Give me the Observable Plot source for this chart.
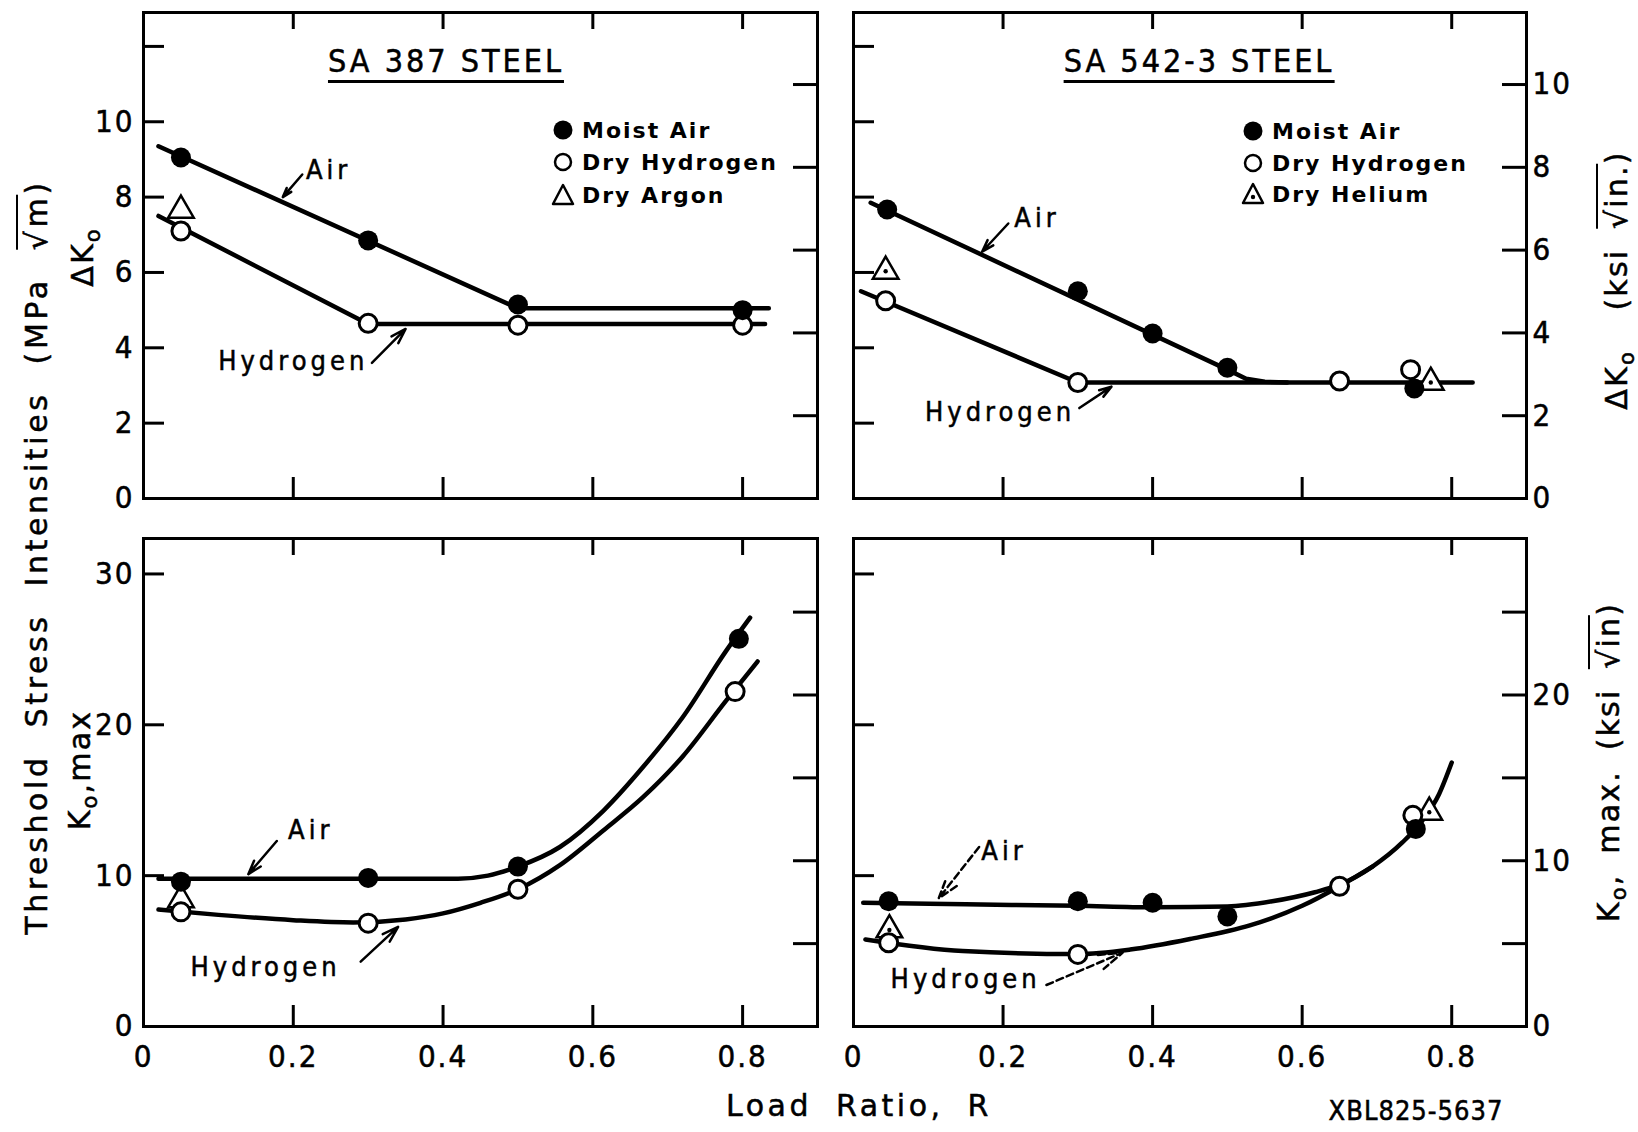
<!DOCTYPE html>
<html>
<head>
<meta charset="utf-8">
<script src="https://cdn.jsdelivr.net/npm/d3@7"></script>
<script src="https://cdn.jsdelivr.net/npm/@observablehq/plot@0.6"></script>
<style>
html, body { margin: 0; padding: 0; background: #fff; }
#fig { position: relative; width: 1638px; height: 1132px; background: #fff; overflow: hidden;
  font-family: "DejaVu Sans Condensed", "DejaVu Sans", sans-serif; color: #000; }
.panel { position: absolute; z-index: 1; }
.panel svg { overflow: visible; max-width: none; display: block; }
.lbl { position: absolute; white-space: nowrap; line-height: 1; z-index: 2; -webkit-text-stroke: 0.5px #000; }
.rot { transform: translate(-50%, -50%) rotate(-90deg); }
.ctr { transform: translate(-50%, -50%); }
.sq { border-top: 2px solid #000; padding-top: 1px; }
.title { position: absolute; white-space: nowrap; z-index: 2; font-size: 32px; letter-spacing: 3px;
  transform: translateX(-50%); border-bottom: 3px solid #000; padding-bottom: 3px; line-height: 1; -webkit-text-stroke: 0.5px #000; }
.leg { position: absolute; z-index: 2; display: flex; align-items: center; height: 26px;
  font-family: "DejaVu Sans", sans-serif; font-weight: bold; font-size: 22px; letter-spacing: 2px; white-space: nowrap; }
.leg svg { margin-right: 7px; }
</style>
</head>
<body>
<div id="fig"></div>
<script>
// ---------- scales / ticks ----------
const KSI = 1.0988; // 1 ksi·√in = 1.0988 MPa·√m
const xInnerTicks = [0.2, 0.4, 0.6, 0.8];
const xLabelTicks = [0, 0.2, 0.4, 0.6, 0.8];
const dkSideTicksMPa = [2, 4, 6, 8, 10, 12];
const dkLabelsMPa = [0, 2, 4, 6, 8, 10];
const dkSideTicksKsi = [2, 4, 6, 8, 10];
const dkLabelsKsi = [0, 2, 4, 6, 8, 10];
const kmSideTicksMPa = [10, 20, 30];
const kmLabelsMPa = [0, 10, 20, 30];
const kmSideTicksKsi = [5, 10, 15, 20, 25];
const kmLabelsKsi = [0, 10, 20];

// ---------- SA 387: ΔK0 (MPa√m) ----------
const sa387DkAirPts = [{R: 0.05, K: 9.05}, {R: 0.30, K: 6.85}, {R: 0.50, K: 5.15}, {R: 0.80, K: 5.0}];
const sa387DkH2Pts  = [{R: 0.05, K: 7.1}, {R: 0.30, K: 4.65}, {R: 0.50, K: 4.6}, {R: 0.80, K: 4.6}];
const sa387DkArPts  = [{R: 0.05, K: 7.65}];
const sa387DkAirFit = [{R: 0.02, K: 9.35}, {R: 0.50, K: 5.05}, {R: 0.835, K: 5.05}];
const sa387DkH2Fit  = [{R: 0.02, K: 7.5}, {R: 0.30, K: 4.63}, {R: 0.83, K: 4.63}];

// ---------- SA 542-3: ΔK0 (MPa√m) ----------
const sa542DkAirPts = [{R: 0.045, K: 7.67}, {R: 0.30, K: 5.5}, {R: 0.40, K: 4.38}, {R: 0.50, K: 3.47}, {R: 0.75, K: 2.92}];
const sa542DkH2Pts  = [{R: 0.043, K: 5.25}, {R: 0.30, K: 3.08}, {R: 0.65, K: 3.12}, {R: 0.745, K: 3.42}];
const sa542DkHePts  = [{R: 0.043, K: 6.03}, {R: 0.772, K: 3.08}];
const sa542DkAirFit = [{R: 0.023, K: 7.85}, {R: 0.50, K: 3.42}, {R: 0.525, K: 3.18}, {R: 0.55, K: 3.1}, {R: 0.58, K: 3.08}];
const sa542DkH2Fit  = [{R: 0.01, K: 5.5}, {R: 0.30, K: 3.08}, {R: 0.828, K: 3.08}];

// ---------- SA 387: K0,max (MPa√m) ----------
const sa387KmAirPts = [{R: 0.05, K: 9.6}, {R: 0.30, K: 9.85}, {R: 0.50, K: 10.6}, {R: 0.795, K: 25.7}];
const sa387KmH2Pts  = [{R: 0.05, K: 7.6}, {R: 0.30, K: 6.85}, {R: 0.50, K: 9.1}, {R: 0.79, K: 22.2}];
const sa387KmArPts  = [{R: 0.05, K: 8.4}];
const sa387KmAirFit = [{R: 0.02, K: 9.8}, {R: 0.15, K: 9.8}, {R: 0.30, K: 9.8}, {R: 0.42, K: 9.8}, {R: 0.46, K: 10.0},
  {R: 0.50, K: 10.6}, {R: 0.556, K: 11.9}, {R: 0.614, K: 14.3}, {R: 0.667, K: 17.2}, {R: 0.72, K: 20.5},
  {R: 0.778, K: 24.9}, {R: 0.81, K: 27.1}];
const sa387KmH2Fit  = [{R: 0.02, K: 7.75}, {R: 0.10, K: 7.4}, {R: 0.20, K: 7.05}, {R: 0.28, K: 6.9}, {R: 0.35, K: 7.1},
  {R: 0.40, K: 7.5}, {R: 0.45, K: 8.2}, {R: 0.50, K: 9.1}, {R: 0.556, K: 10.7}, {R: 0.614, K: 13.0},
  {R: 0.667, K: 15.2}, {R: 0.72, K: 17.9}, {R: 0.778, K: 21.6}, {R: 0.82, K: 24.2}];

// ---------- SA 542-3: K0,max (MPa√m) ----------
const sa542KmAirPts = [{R: 0.047, K: 8.3}, {R: 0.30, K: 8.3}, {R: 0.40, K: 8.2}, {R: 0.50, K: 7.3}, {R: 0.752, K: 13.1}];
const sa542KmH2Pts  = [{R: 0.047, K: 5.55}, {R: 0.30, K: 4.78}, {R: 0.65, K: 9.3}, {R: 0.748, K: 14.0}];
const sa542KmHePts  = [{R: 0.048, K: 6.4}, {R: 0.77, K: 14.2}];
const sa542KmAirFit = [{R: 0.013, K: 8.2}, {R: 0.15, K: 8.1}, {R: 0.30, K: 8.0}, {R: 0.40, K: 7.9}, {R: 0.50, K: 7.95},
  {R: 0.56, K: 8.3}, {R: 0.617, K: 8.9}, {R: 0.65, K: 9.4}, {R: 0.694, K: 10.6}, {R: 0.734, K: 12.2},
  {R: 0.76, K: 13.6}, {R: 0.783, K: 15.4}, {R: 0.80, K: 17.5}];
const sa542KmH2Fit  = [{R: 0.016, K: 5.77}, {R: 0.146, K: 5.0}, {R: 0.30, K: 4.8}, {R: 0.37, K: 5.1}, {R: 0.45, K: 5.8},
  {R: 0.53, K: 6.7}, {R: 0.60, K: 8.0}, {R: 0.65, K: 9.3}, {R: 0.694, K: 10.6}];

// ---------- annotations (label positions in data units) ----------
const annoTL = [{R: 0.217, K: 8.72, text: "Air", a: "start"}, {R: 0.20, K: 3.64, text: "Hydrogen", a: "middle"}];
const arrowTL = [{R1: 0.212, K1: 8.6, R2: 0.186, K2: 8.0}, {R1: 0.305, K1: 3.6, R2: 0.35, K2: 4.5}];
const annoTR = [{R: 0.215, K: 7.44, text: "Air", a: "start"}, {R: 0.196, K: 2.28, text: "Hydrogen", a: "middle"}];
const arrowTR = [{R1: 0.207, K1: 7.3, R2: 0.172, K2: 6.55}, {R1: 0.302, K1: 2.4, R2: 0.345, K2: 2.97}];
const annoBL = [{R: 0.193, K: 13.0, text: "Air", a: "start"}, {R: 0.163, K: 3.9, text: "Hydrogen", a: "middle"}];
const arrowBL = [{R1: 0.178, K1: 12.3, R2: 0.14, K2: 10.1}, {R1: 0.29, K1: 4.3, R2: 0.34, K2: 6.6}];
const annoBR = [{R: 0.171, K: 11.6, text: "Air", a: "start"}, {R: 0.15, K: 3.1, text: "Hydrogen", a: "middle"}];
const arrowBR = [{R1: 0.168, K1: 11.9, R2: 0.114, K2: 8.5}, {R1: 0.258, K1: 2.75, R2: 0.36, K2: 4.9}];

const legend387 = ["Moist Air", "Dry Hydrogen", "Dry Argon"];
const legend542 = ["Moist Air", "Dry Hydrogen", "Dry Helium"];

// ---------- drawing ----------
const FONT = '"DejaVu Sans Condensed", "DejaVu Sans", sans-serif';
const fig = document.getElementById("fig");
const fmtX = d => d === 0 ? "0" : d3.format(".1f")(d);

function panel(cfg) {
  const fw = cfg.width - cfg.mL - cfg.mR;
  const fh = cfg.height - cfg.mT - cfg.mB;
  const textOpts = {x: "R", y: "K", text: "text", fontSize: 27, fill: "black"};
  const marks = [
    Plot.ruleX(xInnerTicks, {x: d => d, insetBottom: fh - 17, stroke: "black", strokeWidth: 3}),
    Plot.ruleX(xInnerTicks, {x: d => d, insetTop: fh - 21, stroke: "black", strokeWidth: 3}),
    Plot.ruleY(cfg.leftTicks, {y: d => d, insetRight: fw - 21, stroke: "black", strokeWidth: 3}),
    Plot.ruleY(cfg.rightTicks.map(k => k * KSI), {y: d => d, insetLeft: fw - 24, stroke: "black", strokeWidth: 3}),
    Plot.frame({stroke: "black", strokeWidth: 3}),
    Plot.line(cfg.airFit, {x: "R", y: "K", stroke: "black", strokeWidth: 4.5, curve: cfg.curve}),
    Plot.line(cfg.h2Fit, {x: "R", y: "K", stroke: "black", strokeWidth: 4.5, curve: cfg.curve}),
    Plot.arrow(cfg.arrows, {x1: "R1", y1: "K1", x2: "R2", y2: "K2", stroke: "black", strokeWidth: 2.5,
      headLength: 15, headAngle: 35, strokeDasharray: cfg.dashArrows ? "7,4" : null}),
    Plot.text(cfg.annos.filter(d => d.a === "start"), {...textOpts, textAnchor: "start"}),
    Plot.text(cfg.annos.filter(d => d.a === "middle"), {...textOpts, textAnchor: "middle"}),
    Plot.dot(cfg.thirdPts, {x: "R", y: "K", symbol: "triangle", r: 9.5, fill: "white", stroke: "black", strokeWidth: 2.5}),
    ...(cfg.helium ? [Plot.dot(cfg.thirdPts, {x: "R", y: "K", r: 2.2, fill: "black"})] : []),
    Plot.dot(cfg.h2Pts, {x: "R", y: "K", r: 9, fill: "white", stroke: "black", strokeWidth: 3}),
    Plot.dot(cfg.airPts, {x: "R", y: "K", r: 10, fill: "black"}),
    ...cfg.axes
  ];
  const svg = Plot.plot({
    width: cfg.width, height: cfg.height,
    marginLeft: cfg.mL, marginRight: cfg.mR, marginTop: cfg.mT, marginBottom: cfg.mB,
    x: {domain: [0, 0.9], axis: null},
    y: {domain: cfg.yDomain, axis: null},
    style: {fontFamily: FONT, fontSize: "31px", letterSpacing: "2px", background: "transparent", color: "black", overflow: "visible"},
    marks
  });
  d3.select(svg).selectAll("text").style("stroke", "black").style("stroke-width", "0.5px");
  d3.select(svg).selectAll('g[aria-label="text"] text').style("letter-spacing", "4px");
  const div = document.createElement("div");
  div.className = "panel";
  div.style.left = cfg.left + "px";
  div.style.top = cfg.top + "px";
  div.appendChild(svg);
  fig.appendChild(div);
}

const topDomain = [0, 12.9];
const botDomain = [0, 32.35];

panel({
  left: 0, top: 0, width: 835, height: 520, mL: 143, mR: 18, mT: 12, mB: 22, yDomain: topDomain, curve: "linear",
  leftTicks: dkSideTicksMPa, rightTicks: dkSideTicksKsi,
  airPts: sa387DkAirPts, h2Pts: sa387DkH2Pts, thirdPts: sa387DkArPts, helium: false,
  airFit: sa387DkAirFit, h2Fit: sa387DkH2Fit, annos: annoTL, arrows: arrowTL,
  axes: [Plot.axisY(dkLabelsMPa, {anchor: "left", tickSize: 0, tickPadding: 9, label: null})]
});
panel({
  left: 835, top: 0, width: 803, height: 520, mL: 18, mR: 112, mT: 12, mB: 22, yDomain: topDomain, curve: "linear",
  leftTicks: dkSideTicksMPa, rightTicks: dkSideTicksKsi,
  airPts: sa542DkAirPts, h2Pts: sa542DkH2Pts, thirdPts: sa542DkHePts, helium: true,
  airFit: sa542DkAirFit, h2Fit: sa542DkH2Fit, annos: annoTR, arrows: arrowTR,
  axes: [Plot.axisY(dkLabelsKsi.map(k => k * KSI), {anchor: "right", tickSize: 0, tickPadding: 6, label: null,
    tickFormat: v => String(Math.round(v / KSI))})]
});
panel({
  left: 0, top: 520, width: 835, height: 612, mL: 143, mR: 18, mT: 18, mB: 106, yDomain: botDomain, curve: "monotone-x",
  leftTicks: kmSideTicksMPa, rightTicks: kmSideTicksKsi,
  airPts: sa387KmAirPts, h2Pts: sa387KmH2Pts, thirdPts: sa387KmArPts, helium: false,
  airFit: sa387KmAirFit, h2Fit: sa387KmH2Fit, annos: annoBL, arrows: arrowBL,
  axes: [
    Plot.axisY(kmLabelsMPa, {anchor: "left", tickSize: 0, tickPadding: 9, label: null}),
    Plot.axisX(xLabelTicks, {anchor: "bottom", tickSize: 0, tickPadding: 18, label: null, tickFormat: fmtX})
  ]
});
panel({
  left: 835, top: 520, width: 803, height: 612, mL: 18, mR: 112, mT: 18, mB: 106, yDomain: botDomain, curve: "monotone-x",
  leftTicks: kmSideTicksMPa, rightTicks: kmSideTicksKsi, dashArrows: true,
  airPts: sa542KmAirPts, h2Pts: sa542KmH2Pts, thirdPts: sa542KmHePts, helium: true,
  airFit: sa542KmAirFit, h2Fit: sa542KmH2Fit, annos: annoBR, arrows: arrowBR,
  axes: [
    Plot.axisY(kmLabelsKsi.map(k => k * KSI), {anchor: "right", tickSize: 0, tickPadding: 6, label: null,
      tickFormat: v => String(Math.round(v / KSI))}),
    Plot.axisX(xLabelTicks, {anchor: "bottom", tickSize: 0, tickPadding: 18, label: null, tickFormat: fmtX})
  ]
});

// ---------- HTML text: titles, axis titles, legends ----------
function addLabel(html, x, y, cls, style) {
  const d = document.createElement("div");
  d.className = "lbl " + cls;
  d.innerHTML = html;
  d.style.left = x + "px";
  d.style.top = y + "px";
  Object.assign(d.style, style || {});
  fig.appendChild(d);
}
function addTitle(text, cx, top) {
  const d = document.createElement("div");
  d.className = "title";
  d.textContent = text;
  d.style.left = cx + "px";
  d.style.top = top + "px";
  fig.appendChild(d);
}
addTitle("SA 387 STEEL", 446, 45);
addTitle("SA 542-3 STEEL", 1199, 45);

const axisFont = {fontFamily: '"DejaVu Sans", sans-serif', fontSize: "30px", letterSpacing: "2.2px", wordSpacing: "8px"};
const mainFont = {fontFamily: '"DejaVu Sans", sans-serif', fontSize: "30px", letterSpacing: "3.6px", wordSpacing: "14px"};
addLabel('Threshold Stress Intensities (MPa <span class="sq">√m</span>)', 37, 557, "rot", mainFont);
addLabel('ΔK<sub style="font-size:0.7em">o</sub>', 86, 257, "rot", axisFont);
addLabel('K<sub style="font-size:0.7em">o</sub>,max', 83, 770, "rot", axisFont);
addLabel('ΔK<sub style="font-size:0.7em">o</sub> &nbsp;(ksi <span class="sq">√in.</span>)', 1620, 280, "rot", axisFont);
addLabel('K<sub style="font-size:0.7em">o</sub>, max. (ksi <span class="sq">√in</span>)', 1612, 762, "rot", axisFont);
addLabel('Load Ratio, R', 859, 1106, "ctr", {fontFamily: '"DejaVu Sans", sans-serif', fontSize: "30px", letterSpacing: "3.5px", wordSpacing: "11px"});
addLabel('XBL825-5637', 1416, 1110, "ctr", {fontSize: "27px", letterSpacing: "1px"});

function symbolSvg(kind) {
  const ns = "http://www.w3.org/2000/svg";
  const s = document.createElementNS(ns, "svg");
  s.setAttribute("width", 24); s.setAttribute("height", 24);
  let el;
  if (kind === 0) {
    el = document.createElementNS(ns, "circle");
    el.setAttribute("cx", 12); el.setAttribute("cy", 12); el.setAttribute("r", 9.5); el.setAttribute("fill", "black");
  } else if (kind === 1) {
    el = document.createElementNS(ns, "circle");
    el.setAttribute("cx", 12); el.setAttribute("cy", 12); el.setAttribute("r", 8); el.setAttribute("fill", "white");
    el.setAttribute("stroke", "black"); el.setAttribute("stroke-width", 2.5);
  } else {
    el = document.createElementNS(ns, "path");
    el.setAttribute("d", "M12,2 L22,21 L2,21 Z"); el.setAttribute("fill", "white");
    el.setAttribute("stroke", "black"); el.setAttribute("stroke-width", 2.5); el.setAttribute("stroke-linejoin", "round");
  }
  s.appendChild(el);
  if (kind === 3) {
    const c = document.createElementNS(ns, "circle");
    c.setAttribute("cx", 12); c.setAttribute("cy", 15); c.setAttribute("r", 2.2); c.setAttribute("fill", "black");
    s.appendChild(c);
  }
  return s;
}
function addLegend(labels, x, ys, third) {
  labels.forEach((lab, i) => {
    const d = document.createElement("div");
    d.className = "leg";
    d.style.left = (x - 12) + "px";
    d.style.top = (ys[i] - 13) + "px";
    d.appendChild(symbolSvg(i === 2 ? third : i));
    const t = document.createElement("span");
    t.textContent = lab;
    d.appendChild(t);
    fig.appendChild(d);
  });
}
addLegend(legend387, 563, [130, 162, 195], 2);
addLegend(legend542, 1253, [131, 163, 194], 3);
</script>
</body>
</html>
